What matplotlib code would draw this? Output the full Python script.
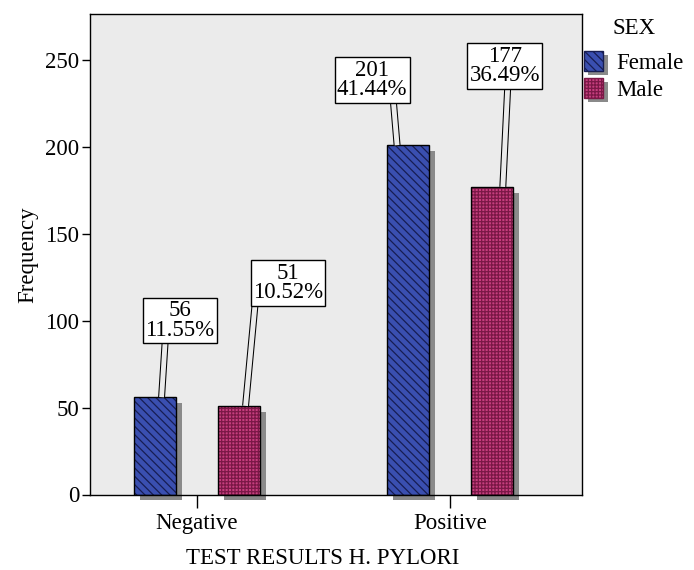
import matplotlib
matplotlib.use('Agg')
from matplotlib import pyplot as plt
from matplotlib.patches import Patch
import matplotlib.patheffects as pe
import numpy as np

categories = ['Negative', 'Positive']
groups = ['Female', 'Male']
female = [56, 201]
male = [51, 177]
female_pct = ['11.55%', '41.44%']
male_pct = ['10.52%', '36.49%']

plt.rcParams['font.family'] = ['Liberation Serif', 'DejaVu Serif']
plt.rcParams['hatch.linewidth'] = 0.9

face = {'Female': '#3a4fb0', 'Male': '#c63e7e'}
hcol = {'Female': '#171d52', 'Male': '#7a1846'}
hatches = {'Female': '\\\\\\\\', 'Male': '+++++'}
bg = '#ebebeb'
shadow_col = '#8a8a8a'
fs = 16.5

# label box: (box dx from bar centre, box y, line top dx, line bottom dx)
label_style = {
    ('Female', 0): (0.099, 100, 0.041, 0.026),
    ('Male', 0): (0.194, 121.7, 0.065, 0.026),
    ('Female', 1): (-0.142, 238.5, -0.059, -0.043),
    ('Male', 1): (0.051, 246.5, 0.063, 0.043),
}

fig = plt.figure(figsize=(6.94, 5.70), dpi=100)
ax = fig.add_axes([90 / 694, 1 - 494.5 / 570, 492 / 694, 480.5 / 570])
ax.set_facecolor(bg)

x = np.arange(len(categories))
width = 0.168
offs = {'Female': -0.166, 'Male': 0.166}
vals = {'Female': female, 'Male': male}
pcts = {'Female': female_pct, 'Male': male_pct}

shadow = [pe.SimplePatchShadow(offset=(4.3, -4.3), shadow_rgbFace=shadow_col, alpha=1, hatch=None), pe.Normal()]

for g in groups:
    xs = x + offs[g]
    ax.bar(xs, vals[g], width, color=face[g], edgecolor=hcol[g], linewidth=0,
           hatch=hatches[g], clip_on=False, path_effects=shadow, zorder=2)
    ax.bar(xs, vals[g], width, fill=False, edgecolor='black', linewidth=1.0, zorder=3)
    for i, v in enumerate(vals[g]):
        bdx, by, tdx, ldx = label_style[(g, i)]
        lx = [xs[i] + ldx, xs[i] + tdx]
        ly = [v, by - 10]
        ax.plot(lx, ly, color='black', lw=5.0, solid_capstyle='butt', zorder=4)
        ax.plot(lx, ly, color=bg, lw=3.5, solid_capstyle='butt', zorder=4)
        ax.text(xs[i] + bdx, by, f'{v}\n{pcts[g][i]}', ha='center', va='center',
                fontsize=fs, linespacing=0.92, zorder=5,
                bbox=dict(boxstyle='square,pad=0.1', fc='white', ec='black', lw=1))

ax.set_xlim(-0.423, 1.522)
ax.set_ylim(0, 276.5)
ax.set_xticks(x)
ax.set_xticklabels(categories)
ax.set_yticks([0, 50, 100, 150, 200, 250])
ax.tick_params(axis='x', length=9, width=1, labelsize=fs, pad=4)
ax.tick_params(axis='y', length=5.8, width=1, labelsize=fs, pad=2)
for s in ax.spines.values():
    s.set_linewidth(1)
ax.set_ylabel('Frequency', fontsize=fs)
ax.set_xlabel('TEST RESULTS H. PYLORI', fontsize=fs)
ax.yaxis.set_label_coords(-0.106, 0.5)
ax.xaxis.set_label_coords(0.472, -0.112)

handles = [Patch(facecolor=face[g], edgecolor=hcol[g], hatch=hatches[g], linewidth=1,
                 path_effects=[pe.SimplePatchShadow(offset=(2.9, -2.9), shadow_rgbFace=shadow_col,
                                                    alpha=1, hatch=None), pe.Normal()])
           for g in groups]
fig.text(634 / 694, 1 - 29 / 570, 'SEX', ha='center', va='center', fontsize=fs)
leg = fig.legend(handles, groups, loc='upper left', bbox_to_anchor=(584 / 694, 1 - 51 / 570),
                 frameon=False, fontsize=fs, handlelength=0.85, handleheight=0.95,
                 handletextpad=0.55, labelspacing=0.18, borderpad=0, borderaxespad=0)

fig.savefig('out.png', dpi=100)
